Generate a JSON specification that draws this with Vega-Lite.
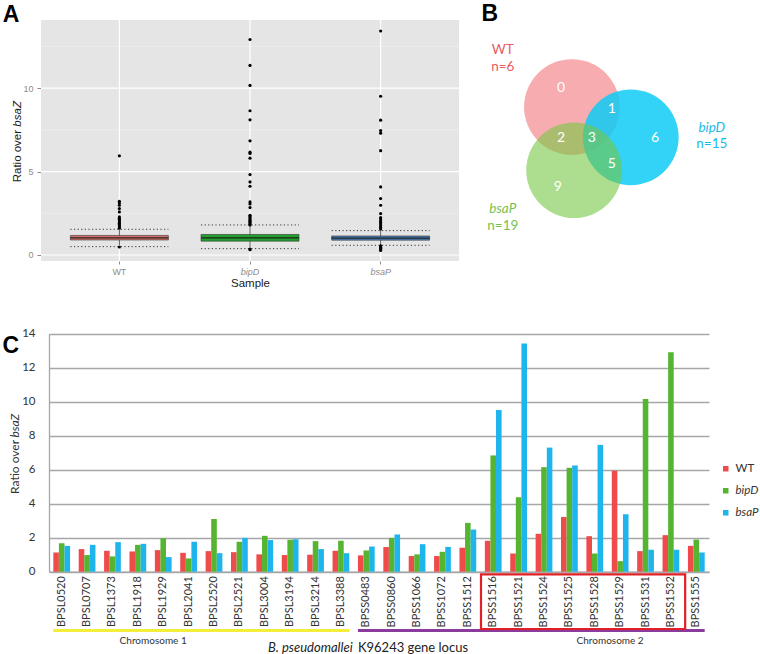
{
"$schema": "https://vega.github.io/schema/vega-lite/v6.json",
"width": 760, "height": 654,
"autosize": {"type": "none"},
"padding": 0,
"background": "#ffffff",
"config": {"view": {"stroke": null}, "font": "Lato"},
"resolve": {"scale": {"x": "independent", "y": "independent", "color": "independent", "opacity": "independent", "stroke": "independent", "fill": "independent", "xOffset": "independent"}, "axis": {"x": "independent", "y": "independent"}, "legend": {"color": "independent", "fill": "independent", "stroke": "independent", "opacity": "independent"}},
"layer": [
{"data": {"values": [{"sample":"WT"},{"sample":"bipD"},{"sample":"bsaP"}]},
 "mark": {"type":"bar","width":{"band":1.2},"fill":"#E5E5E5","stroke":null},
 "encoding": {
  "x": {"field":"sample","type":"nominal","scale":{"type":"band","domain":["WT","bipD","bsaP"],"range":[41,459],"paddingInner":0,"paddingOuter":0.1},
        "axis":{"orient":"bottom","offset":-393,"title":"Sample","titleFont":"Liberation Sans","titleFontSize":11.5,"titleFontWeight":"normal","titleColor":"#1a1a1a","titleBaseline":"middle","titleY":22,"labelFont":"Liberation Sans","labelFontSize":9,"labelColor":"#8c8c8c","labelFontStyle":{"condition":{"test":"datum.value === 'WT'","value":"normal"},"value":"italic"},"labelAngle":0,"labelPadding":3,"ticks":true,"tickSize":3,"tickColor":"#8c8c8c","domain":false,"grid":false}},
  "y": {"datum":-0.36,"type":"quantitative","scale":{"type":"linear","domain":[-0.36,14.08],"range":[261,20],"nice":false,"zero":false},
        "axis":{"orient":"left","offset":-41,"values":[0,5,10],"title":null,"labelFont":"Liberation Sans","labelFontSize":9,"labelColor":"#8c8c8c","labelPadding":4,"ticks":true,"tickSize":4,"tickColor":"#8c8c8c","domain":false,"grid":false}},
  "y2": {"datum":14.08}
 }},
{"data": {"values": [{"g":2.5},{"g":7.5},{"g":12.5}]},
 "mark": {"type":"rule","color":"#F2F2F2","strokeWidth":0.6},
 "encoding": {
  "x": {"datum":"WT","type":"nominal","bandPosition":-0.1,"scale":{"type":"band","domain":["WT","bipD","bsaP"],"range":[41,459],"paddingInner":0,"paddingOuter":0.1},"axis":null},
  "x2": {"datum":"bsaP","bandPosition":1.1},
  "y": {"field":"g","type":"quantitative","scale":{"type":"linear","domain":[-0.36,14.08],"range":[261,20],"nice":false,"zero":false},"axis":null}
 }},
{"data": {"values": [{"g":0},{"g":5},{"g":10}]},
 "mark": {"type":"rule","color":"#FFFFFF","strokeWidth":1.2},
 "encoding": {
  "x": {"datum":"WT","type":"nominal","bandPosition":-0.1,"scale":{"type":"band","domain":["WT","bipD","bsaP"],"range":[41,459],"paddingInner":0,"paddingOuter":0.1},"axis":null},
  "x2": {"datum":"bsaP","bandPosition":1.1},
  "y": {"field":"g","type":"quantitative","scale":{"type":"linear","domain":[-0.36,14.08],"range":[261,20],"nice":false,"zero":false},"axis":null}
 }},
{"data": {"values": [{"sample":"WT"},{"sample":"bipD"},{"sample":"bsaP"}]},
 "mark": {"type":"rule","color":"#FFFFFF","strokeWidth":1.2},
 "encoding": {
  "x": {"field":"sample","type":"nominal","scale":{"type":"band","domain":["WT","bipD","bsaP"],"range":[41,459],"paddingInner":0,"paddingOuter":0.1},"axis":null},
  "y": {"datum":-0.36,"type":"quantitative","scale":{"type":"linear","domain":[-0.36,14.08],"range":[261,20],"nice":false,"zero":false},"axis":null},
  "y2": {"datum":14.08}
 }},
{"data": {"values": [
  {"sample":"WT","dlo":0.5,"dhi":1.54},
  {"sample":"bipD","dlo":0.38,"dhi":1.8},
  {"sample":"bsaP","dlo":0.58,"dhi":1.46}]},
 "transform": [{"fold":["dlo","dhi"],"as":["k","dv"]}],
 "mark": {"type":"rule","color":"#333333","strokeWidth":1,"strokeDash":[1.2,2.4]},
 "encoding": {
  "x": {"field":"sample","type":"nominal","bandPosition":0.125,"scale":{"type":"band","domain":["WT","bipD","bsaP"],"range":[41,459],"paddingInner":0,"paddingOuter":0.1},"axis":null},
  "x2": {"field":"sample","bandPosition":0.875},
  "y": {"field":"dv","type":"quantitative","scale":{"type":"linear","domain":[-0.36,14.08],"range":[261,20],"nice":false,"zero":false},"axis":null}
 }},
{"data": {"values": [
  {"sample":"WT","wlo":0.6,"whi":1.5},
  {"sample":"bipD","wlo":0.45,"whi":1.75},
  {"sample":"bsaP","wlo":0.6,"whi":1.45}]},
 "mark": {"type":"rule","color":"#333333","strokeWidth":0.8},
 "encoding": {
  "x": {"field":"sample","type":"nominal","scale":{"type":"band","domain":["WT","bipD","bsaP"],"range":[41,459],"paddingInner":0,"paddingOuter":0.1},"axis":null},
  "y": {"field":"wlo","type":"quantitative","scale":{"type":"linear","domain":[-0.36,14.08],"range":[261,20],"nice":false,"zero":false},"axis":null},
  "y2": {"field":"whi"}
 }},
{"data": {"values": [
  {"sample":"WT","q1":0.9,"q3":1.17},
  {"sample":"bipD","q1":0.83,"q3":1.23},
  {"sample":"bsaP","q1":0.89,"q3":1.14}]},
 "mark": {"type":"bar","width":{"band":0.75},"stroke":"#333333","strokeWidth":0.6},
 "encoding": {
  "x": {"field":"sample","type":"nominal","scale":{"type":"band","domain":["WT","bipD","bsaP"],"range":[41,459],"paddingInner":0,"paddingOuter":0.1},"axis":null},
  "y": {"field":"q1","type":"quantitative","scale":{"type":"linear","domain":[-0.36,14.08],"range":[261,20],"nice":false,"zero":false},"axis":null},
  "y2": {"field":"q3"},
  "fill": {"field":"sample","type":"nominal","scale":{"domain":["WT","bipD","bsaP"],"range":["#D9716A","#21A12B","#4A7DB8"]},"legend":null}
 }},
{"data": {"values": [
  {"sample":"WT","med":1.03},
  {"sample":"bipD","med":1.02},
  {"sample":"bsaP","med":1.01}]},
 "mark": {"type":"rule","color":"#222222","strokeWidth":1.2},
 "encoding": {
  "x": {"field":"sample","type":"nominal","bandPosition":0.125,"scale":{"type":"band","domain":["WT","bipD","bsaP"],"range":[41,459],"paddingInner":0,"paddingOuter":0.1},"axis":null},
  "x2": {"field":"sample","bandPosition":0.875},
  "y": {"field":"med","type":"quantitative","scale":{"type":"linear","domain":[-0.36,14.08],"range":[261,20],"nice":false,"zero":false},"axis":null}
 }},
{"data": {"values": [
  {"sample":"WT","value":5.94},{"sample":"WT","value":3.22},{"sample":"WT","value":3.12},{"sample":"WT","value":2.98},{"sample":"WT","value":2.78},{"sample":"WT","value":2.58},{"sample":"WT","value":2.28},{"sample":"WT","value":2.2},{"sample":"WT","value":2.12},{"sample":"WT","value":2.05},{"sample":"WT","value":1.98},{"sample":"WT","value":1.9},{"sample":"WT","value":1.82},{"sample":"WT","value":1.75},{"sample":"WT","value":1.68},{"sample":"WT","value":1.6},{"sample":"WT","value":0.48},
  {"sample":"bipD","value":12.91},{"sample":"bipD","value":11.36},{"sample":"bipD","value":10.16},{"sample":"bipD","value":8.64},{"sample":"bipD","value":8.1},{"sample":"bipD","value":6.84},{"sample":"bipD","value":6.16},{"sample":"bipD","value":6.08},{"sample":"bipD","value":5.8},{"sample":"bipD","value":4.82},{"sample":"bipD","value":4.38},{"sample":"bipD","value":4.12},{"sample":"bipD","value":3.18},{"sample":"bipD","value":3.06},{"sample":"bipD","value":2.84},{"sample":"bipD","value":2.38},{"sample":"bipD","value":2.3},{"sample":"bipD","value":2.22},{"sample":"bipD","value":2.15},{"sample":"bipD","value":2.08},{"sample":"bipD","value":2.0},{"sample":"bipD","value":1.94},{"sample":"bipD","value":1.87},{"sample":"bipD","value":1.8},{"sample":"bipD","value":0.36},{"sample":"bipD","value":0.32},
  {"sample":"bsaP","value":13.42},{"sample":"bsaP","value":9.51},{"sample":"bsaP","value":8.08},{"sample":"bsaP","value":7.46},{"sample":"bsaP","value":7.3},{"sample":"bsaP","value":6.25},{"sample":"bsaP","value":4.08},{"sample":"bsaP","value":3.38},{"sample":"bsaP","value":2.98},{"sample":"bsaP","value":2.48},{"sample":"bsaP","value":2.24},{"sample":"bsaP","value":2.15},{"sample":"bsaP","value":2.05},{"sample":"bsaP","value":1.95},{"sample":"bsaP","value":1.85},{"sample":"bsaP","value":1.75},{"sample":"bsaP","value":1.65},{"sample":"bsaP","value":1.55},{"sample":"bsaP","value":0.55},{"sample":"bsaP","value":0.47},{"sample":"bsaP","value":0.4},{"sample":"bsaP","value":0.33},{"sample":"bsaP","value":0.27}]},
 "mark": {"type":"circle","size":10,"color":"#000000","opacity":1},
 "encoding": {
  "x": {"field":"sample","type":"nominal","scale":{"type":"band","domain":["WT","bipD","bsaP"],"range":[41,459],"paddingInner":0,"paddingOuter":0.1},"axis":null},
  "y": {"field":"value","type":"quantitative","scale":{"type":"linear","domain":[-0.36,14.08],"range":[261,20],"nice":false,"zero":false},"axis":null}
 }},
{"data": {"values": [{"t":"Ratio over","at":7.495}]},
 "mark": {"type":"text","font":"Liberation Sans","fontSize":11.5,"color":"#1a1a1a","angle":270,"align":"right","baseline":"middle"},
 "encoding": {
  "text": {"field":"t"},
  "x": {"datum":"WT","type":"nominal","bandPosition":-0.274,"scale":{"type":"band","domain":["WT","bipD","bsaP"],"range":[41,459],"paddingInner":0,"paddingOuter":0.1},"axis":null},
  "y": {"field":"at","type":"quantitative","scale":{"type":"linear","domain":[-0.36,14.08],"range":[261,20],"nice":false,"zero":false},"axis":null}
 }},
{"data": {"values": [{"t":"bsaZ","at":7.69}]},
 "mark": {"type":"text","font":"Liberation Sans","fontSize":11.5,"fontStyle":"italic","color":"#1a1a1a","angle":270,"align":"left","baseline":"middle"},
 "encoding": {
  "text": {"field":"t"},
  "x": {"datum":"WT","type":"nominal","bandPosition":-0.274,"scale":{"type":"band","domain":["WT","bipD","bsaP"],"range":[41,459],"paddingInner":0,"paddingOuter":0.1},"axis":null},
  "y": {"field":"at","type":"quantitative","scale":{"type":"linear","domain":[-0.36,14.08],"range":[261,20],"nice":false,"zero":false},"axis":null}
 }},
{"data": {"values": [{"panel":"A"}]},
 "mark": {"type":"text","font":"Liberation Sans","fontSize":23,"fontWeight":"bold","align":"center","baseline":"alphabetic","color":"#000000"},
 "encoding": {
  "text": {"field":"panel"},
  "x": {"datum":"WT","type":"nominal","bandPosition":-0.33,"scale":{"type":"band","domain":["WT","bipD","bsaP"],"range":[41,459],"paddingInner":0,"paddingOuter":0.1},"axis":null},
  "y": {"datum":13.98,"type":"quantitative","scale":{"type":"linear","domain":[-0.36,14.08],"range":[261,20],"nice":false,"zero":false},"axis":null}
 }},
{"data": {"values": [{"set":"WT","cx":-0.52,"cy":0.61},{"set":"bipD","cx":0.57,"cy":0.05},{"set":"bsaP","cx":-0.48,"cy":-0.56}]},
 "mark": {"type":"point","shape":"circle","filled":true,"size":9160,"strokeWidth":0,"opacity":{"expr":"datum.set === 'WT' ? 0.5 : datum.set === 'bipD' ? 0.85 : 0.6"}},
 "encoding": {
  "x": {"field":"cx","type":"quantitative","scale":{"type":"linear","domain":[-2.2,2.6],"range":[481.2,740.4],"nice":false,"zero":false},"axis":null},
  "y": {"field":"cy","type":"quantitative","scale":{"type":"linear","domain":[-2.2,2.6],"range":[258.8,-0.4],"nice":false,"zero":false},"axis":null},
  "color": {"field":"set","type":"nominal","scale":{"domain":["WT","bipD","bsaP"],"range":["#F05A62","#0ECBF4","#76C642"]},"legend":null}
 }},
{"data": {"values": [{"n":"0","x":-0.72,"y":0.96},{"n":"1","x":0.22,"y":0.57},{"n":"2","x":-0.72,"y":0.04},{"n":"3","x":-0.15,"y":0.04},{"n":"6","x":1.02,"y":0.04},{"n":"5","x":0.22,"y":-0.44},{"n":"9","x":-0.78,"y":-0.87}]},
 "mark": {"type":"text","fontSize":14,"color":"#FFFFFF","align":"center","baseline":"middle"},
 "encoding": {
  "text": {"field":"n"},
  "x": {"field":"x","type":"quantitative","scale":{"type":"linear","domain":[-2.2,2.6],"range":[481.2,740.4],"nice":false,"zero":false},"axis":null},
  "y": {"field":"y","type":"quantitative","scale":{"type":"linear","domain":[-2.2,2.6],"range":[258.8,-0.4],"nice":false,"zero":false},"axis":null}
 }},
{"data": {"values": [{"t":"WT","set":"WT","x":-1.8,"y":1.67},{"t":"n=6","set":"WT","x":-1.8,"y":1.35},{"t":"bipD","set":"bipD","x":2.07,"y":0.23},{"t":"n=15","set":"bipD","x":2.07,"y":-0.08},{"t":"bsaP","set":"bsaP","x":-1.8,"y":-1.28},{"t":"n=19","set":"bsaP","x":-1.8,"y":-1.59}]},
 "mark": {"type":"text","fontSize":13.5,"align":"center","baseline":"middle","fontStyle":{"expr":"datum.t === 'bipD' || datum.t === 'bsaP' ? 'italic' : 'normal'"}},
 "encoding": {
  "text": {"field":"t"},
  "x": {"field":"x","type":"quantitative","scale":{"type":"linear","domain":[-2.2,2.6],"range":[481.2,740.4],"nice":false,"zero":false},"axis":null},
  "y": {"field":"y","type":"quantitative","scale":{"type":"linear","domain":[-2.2,2.6],"range":[258.8,-0.4],"nice":false,"zero":false},"axis":null},
  "color": {"field":"set","type":"nominal","scale":{"domain":["WT","bipD","bsaP"],"range":["#E85C63","#1DB9E6","#79C14F"]},"legend":null}
 }},
{"data": {"values": [{"panel":"B"}]},
 "mark": {"type":"text","font":"Liberation Sans","fontSize":23,"fontWeight":"bold","align":"center","baseline":"alphabetic","color":"#000000"},
 "encoding": {
  "text": {"field":"panel"},
  "x": {"datum":-2.04,"type":"quantitative","scale":{"type":"linear","domain":[-2.2,2.6],"range":[481.2,740.4],"nice":false,"zero":false},"axis":null},
  "y": {"datum":2.2,"type":"quantitative","scale":{"type":"linear","domain":[-2.2,2.6],"range":[258.8,-0.4],"nice":false,"zero":false},"axis":null}
 }},
{"data": {"values": [
  {"gene":"BPSL0520","WT":1.13,"bipD":1.68,"bsaP":1.52},
  {"gene":"BPSL0707","WT":1.33,"bipD":0.98,"bsaP":1.58},
  {"gene":"BPSL1373","WT":1.23,"bipD":0.9,"bsaP":1.74},
  {"gene":"BPSL1918","WT":1.19,"bipD":1.58,"bsaP":1.64},
  {"gene":"BPSL1929","WT":1.27,"bipD":1.97,"bsaP":0.86},
  {"gene":"BPSL2041","WT":1.11,"bipD":0.78,"bsaP":1.76},
  {"gene":"BPSL2520","WT":1.21,"bipD":3.1,"bsaP":1.09},
  {"gene":"BPSL2521","WT":1.15,"bipD":1.76,"bsaP":1.99},
  {"gene":"BPSL3004","WT":1.02,"bipD":2.11,"bsaP":1.86},
  {"gene":"BPSL3194","WT":0.98,"bipD":1.88,"bsaP":1.91},
  {"gene":"BPSL3214","WT":1.0,"bipD":1.8,"bsaP":1.33},
  {"gene":"BPSL3388","WT":1.23,"bipD":1.82,"bsaP":1.09},
  {"gene":"BPSS0483","WT":0.96,"bipD":1.25,"bsaP":1.48},
  {"gene":"BPSS0860","WT":1.45,"bipD":1.99,"bsaP":2.19},
  {"gene":"BPSS1066","WT":0.92,"bipD":1.02,"bsaP":1.62},
  {"gene":"BPSS1072","WT":0.92,"bipD":1.17,"bsaP":1.46},
  {"gene":"BPSS1512","WT":1.41,"bipD":2.87,"bsaP":2.48},
  {"gene":"BPSS1516","WT":1.82,"bipD":6.84,"bsaP":9.51},
  {"gene":"BPSS1521","WT":1.07,"bipD":4.38,"bsaP":13.42},
  {"gene":"BPSS1524","WT":2.23,"bipD":6.15,"bsaP":7.3},
  {"gene":"BPSS1525","WT":3.22,"bipD":6.11,"bsaP":6.25},
  {"gene":"BPSS1528","WT":2.09,"bipD":1.07,"bsaP":7.46},
  {"gene":"BPSS1529","WT":5.94,"bipD":0.62,"bsaP":3.38},
  {"gene":"BPSS1531","WT":1.21,"bipD":10.16,"bsaP":1.29},
  {"gene":"BPSS1532","WT":2.15,"bipD":12.91,"bsaP":1.29},
  {"gene":"BPSS1555","WT":1.52,"bipD":1.89,"bsaP":1.13}]},
 "transform": [{"fold":["WT","bipD","bsaP"],"as":["sample","value"]}],
 "mark": {"type":"bar"},
 "encoding": {
  "x": {"field":"gene","type":"nominal","scale":{"type":"band","domain":["BPSL0520","BPSL0707","BPSL1373","BPSL1918","BPSL1929","BPSL2041","BPSL2520","BPSL2521","BPSL3004","BPSL3194","BPSL3214","BPSL3388","BPSS0483","BPSS0860","BPSS1066","BPSS1072","BPSS1512","BPSS1516","BPSS1521","BPSS1524","BPSS1525","BPSS1528","BPSS1529","BPSS1531","BPSS1532","BPSS1555"],"range":[49,709],"paddingInner":0.34,"paddingOuter":0.17},
        "axis":{"orient":"bottom","offset":-82.3,"title":null,"labelAngle":270,"labelAlign":"right","labelBaseline":"middle","labelFont":"Lato","labelFontSize":11,"labelColor":"#333333","labelPadding":4,"labelOverlap":false,"ticks":false,"tickSize":0,"domain":true,"domainColor":"#A6A6A6","domainWidth":1.3,"grid":false}},
  "xOffset": {"field":"sample","type":"nominal","scale":{"domain":["WT","bipD","bsaP"],"paddingInner":0,"paddingOuter":0}},
  "y": {"field":"value","type":"quantitative","scale":{"type":"linear","domain":[0,14],"range":[571.7,333.7],"nice":false,"zero":false},
        "axis":{"orient":"left","offset":-49,"values":[0,2,4,6,8,10,12,14],"grid":true,"gridColor":"#A6A6A6","gridWidth":1.3,"domain":true,"domainColor":"#A6A6A6","domainWidth":1.3,"ticks":false,"tickSize":0,"labelPadding":14,"labelFont":"Lato","labelFontSize":11.5,"labelColor":"#333333","title":null}},
  "color": {"field":"sample","type":"nominal","scale":{"domain":["WT","bipD","bsaP"],"range":["#F04B4B","#55B530","#1EB4EC"]},
        "legend":{"orient":"none","legendX":720,"legendY":463,"title":null,"symbolType":"square","symbolSize":30,"symbolStrokeWidth":0,"labelFont":"Lato","labelFontSize":11.5,"labelColor":"#333333","labelFontStyle":{"expr":"datum.label === 'WT' ? 'normal' : 'italic'"},"rowPadding":9,"labelOffset":4,"padding":0}}
 }},
{"data": {"values": [{"t":"Ratio over","at":7.75}]},
 "mark": {"type":"text","font":"Lato","fontSize":12,"color":"#333333","angle":270,"align":"right","baseline":"middle"},
 "encoding": {
  "text": {"field":"t"},
  "x": {"datum":"BPSL0520","type":"nominal","bandPosition":-2.287,"scale":{"type":"band","domain":["BPSL0520","BPSL0707","BPSL1373","BPSL1918","BPSL1929","BPSL2041","BPSL2520","BPSL2521","BPSL3004","BPSL3194","BPSL3214","BPSL3388","BPSS0483","BPSS0860","BPSS1066","BPSS1072","BPSS1512","BPSS1516","BPSS1521","BPSS1524","BPSS1525","BPSS1528","BPSS1529","BPSS1531","BPSS1532","BPSS1555"],"range":[49,709],"paddingInner":0.34,"paddingOuter":0.17},"axis":null},
  "y": {"field":"at","type":"quantitative","scale":{"type":"linear","domain":[0,14],"range":[571.7,333.7],"nice":false,"zero":false},"axis":null}
 }},
{"data": {"values": [{"t":"bsaZ","at":7.89}]},
 "mark": {"type":"text","font":"Lato","fontSize":12,"fontStyle":"italic","color":"#333333","angle":270,"align":"left","baseline":"middle"},
 "encoding": {
  "text": {"field":"t"},
  "x": {"datum":"BPSL0520","type":"nominal","bandPosition":-2.287,"scale":{"type":"band","domain":["BPSL0520","BPSL0707","BPSL1373","BPSL1918","BPSL1929","BPSL2041","BPSL2520","BPSL2521","BPSL3004","BPSL3194","BPSL3214","BPSL3388","BPSS0483","BPSS0860","BPSS1066","BPSS1072","BPSS1512","BPSS1516","BPSS1521","BPSS1524","BPSS1525","BPSS1528","BPSS1529","BPSS1531","BPSS1532","BPSS1555"],"range":[49,709],"paddingInner":0.34,"paddingOuter":0.17},"axis":null},
  "y": {"field":"at","type":"quantitative","scale":{"type":"linear","domain":[0,14],"range":[571.7,333.7],"nice":false,"zero":false},"axis":null}
 }},
{"data": {"values": [{"chrom":"Chromosome 1","from":"BPSL0520","to":"BPSL3388"},{"chrom":"Chromosome 2","from":"BPSS0483","to":"BPSS1555"}]},
 "mark": {"type":"rule","strokeWidth":3},
 "encoding": {
  "x": {"field":"from","type":"nominal","bandPosition":0,"scale":{"type":"band","domain":["BPSL0520","BPSL0707","BPSL1373","BPSL1918","BPSL1929","BPSL2041","BPSL2520","BPSL2521","BPSL3004","BPSL3194","BPSL3214","BPSL3388","BPSS0483","BPSS0860","BPSS1066","BPSS1072","BPSS1512","BPSS1516","BPSS1521","BPSS1524","BPSS1525","BPSS1528","BPSS1529","BPSS1531","BPSS1532","BPSS1555"],"range":[49,709],"paddingInner":0.34,"paddingOuter":0.17},"axis":null},
  "x2": {"field":"to","bandPosition":1},
  "y": {"datum":-3.46,"type":"quantitative","scale":{"type":"linear","domain":[0,14],"range":[571.7,333.7],"nice":false,"zero":false},"axis":null},
  "stroke": {"field":"chrom","type":"nominal","scale":{"domain":["Chromosome 1","Chromosome 2"],"range":["#F2EE3A","#8B3A9E"]},"legend":null}
 }},
{"data": {"values": [{"chrom":"Chromosome 1","at":"BPSL1929"},{"chrom":"Chromosome 2","at":"BPSS1529"}]},
 "mark": {"type":"text","fontSize":10,"color":"#333333","align":"center","baseline":"middle"},
 "encoding": {
  "text": {"field":"chrom"},
  "x": {"field":"at","type":"nominal","bandPosition":-0.1,"scale":{"type":"band","domain":["BPSL0520","BPSL0707","BPSL1373","BPSL1918","BPSL1929","BPSL2041","BPSL2520","BPSL2521","BPSL3004","BPSL3194","BPSL3214","BPSL3388","BPSS0483","BPSS0860","BPSS1066","BPSS1072","BPSS1512","BPSS1516","BPSS1521","BPSS1524","BPSS1525","BPSS1528","BPSS1529","BPSS1531","BPSS1532","BPSS1555"],"range":[49,709],"paddingInner":0.34,"paddingOuter":0.17},"axis":null},
  "y": {"datum":-4.05,"type":"quantitative","scale":{"type":"linear","domain":[0,14],"range":[571.7,333.7],"nice":false,"zero":false},"axis":null}
 }},
{"data": {"values": [{"t":"B. pseudomallei","at":"BPSL3388"}]},
 "mark": {"type":"text","fontSize":13,"fontStyle":"italic","color":"#222222","align":"right","baseline":"middle"},
 "encoding": {
  "text": {"field":"t"},
  "x": {"field":"at","type":"nominal","bandPosition":1.2,"scale":{"type":"band","domain":["BPSL0520","BPSL0707","BPSL1373","BPSL1918","BPSL1929","BPSL2041","BPSL2520","BPSL2521","BPSL3004","BPSL3194","BPSL3214","BPSL3388","BPSS0483","BPSS0860","BPSS1066","BPSS1072","BPSS1512","BPSS1516","BPSS1521","BPSS1524","BPSS1525","BPSS1528","BPSS1529","BPSS1531","BPSS1532","BPSS1555"],"range":[49,709],"paddingInner":0.34,"paddingOuter":0.17},"axis":null},
  "y": {"datum":-4.49,"type":"quantitative","scale":{"type":"linear","domain":[0,14],"range":[571.7,333.7],"nice":false,"zero":false},"axis":null}
 }},
{"data": {"values": [{"t":"K96243 gene locus","at":"BPSS0483"}]},
 "mark": {"type":"text","fontSize":13,"color":"#222222","align":"left","baseline":"middle"},
 "encoding": {
  "text": {"field":"t"},
  "x": {"field":"at","type":"nominal","bandPosition":0,"scale":{"type":"band","domain":["BPSL0520","BPSL0707","BPSL1373","BPSL1918","BPSL1929","BPSL2041","BPSL2520","BPSL2521","BPSL3004","BPSL3194","BPSL3214","BPSL3388","BPSS0483","BPSS0860","BPSS1066","BPSS1072","BPSS1512","BPSS1516","BPSS1521","BPSS1524","BPSS1525","BPSS1528","BPSS1529","BPSS1531","BPSS1532","BPSS1555"],"range":[49,709],"paddingInner":0.34,"paddingOuter":0.17},"axis":null},
  "y": {"datum":-4.49,"type":"quantitative","scale":{"type":"linear","domain":[0,14],"range":[571.7,333.7],"nice":false,"zero":false},"axis":null}
 }},
{"data": {"values": [{"from":"BPSS1516","to":"BPSS1532"}]},
 "mark": {"type":"rect","filled":false,"stroke":"#E11F26","strokeWidth":2.2},
 "encoding": {
  "x": {"field":"from","type":"nominal","bandPosition":-0.23,"scale":{"type":"band","domain":["BPSL0520","BPSL0707","BPSL1373","BPSL1918","BPSL1929","BPSL2041","BPSL2520","BPSL2521","BPSL3004","BPSL3194","BPSL3214","BPSL3388","BPSS0483","BPSS0860","BPSS1066","BPSS1072","BPSS1512","BPSS1516","BPSS1521","BPSS1524","BPSS1525","BPSS1528","BPSS1529","BPSS1531","BPSS1532","BPSS1555"],"range":[49,709],"paddingInner":0.34,"paddingOuter":0.17},"axis":null},
  "x2": {"field":"to","bandPosition":1.35},
  "y": {"datum":-0.16,"type":"quantitative","scale":{"type":"linear","domain":[0,14],"range":[571.7,333.7],"nice":false,"zero":false},"axis":null},
  "y2": {"datum":-3.37}
 }},
{"data": {"values": [{"panel":"C"}]},
 "mark": {"type":"text","font":"Liberation Sans","fontSize":23,"fontWeight":"bold","align":"center","baseline":"alphabetic","color":"#000000"},
 "encoding": {
  "text": {"field":"panel"},
  "x": {"datum":"BPSL0520","type":"nominal","bandPosition":-2.53,"scale":{"type":"band","domain":["BPSL0520","BPSL0707","BPSL1373","BPSL1918","BPSL1929","BPSL2041","BPSL2520","BPSL2521","BPSL3004","BPSL3194","BPSL3214","BPSL3388","BPSS0483","BPSS0860","BPSS1066","BPSS1072","BPSS1512","BPSS1516","BPSS1521","BPSS1524","BPSS1525","BPSS1528","BPSS1529","BPSS1531","BPSS1532","BPSS1555"],"range":[49,709],"paddingInner":0.34,"paddingOuter":0.17},"axis":null},
  "y": {"datum":12.86,"type":"quantitative","scale":{"type":"linear","domain":[0,14],"range":[571.7,333.7],"nice":false,"zero":false},"axis":null}
 }}
]
}
